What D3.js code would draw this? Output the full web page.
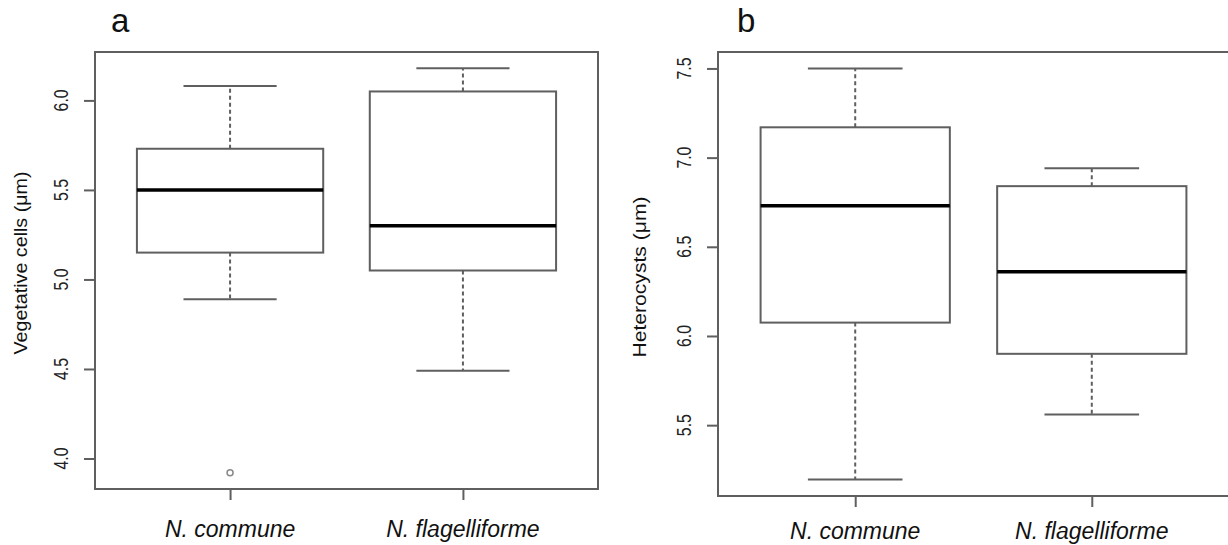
<!DOCTYPE html>
<html>
<head>
<meta charset="utf-8">
<script src="https://cdn.jsdelivr.net/npm/d3@7"></script>
<style>
  body { margin: 0; background: #fff; }
  svg { display: block; }
</style>
</head>
<body>
<div id="chart"></div>
<script>
  // species on the x axis (same for both panels)
  const species = ["N. commune", "N. flagelliforme"];

  // box stats: [lower whisker, Q1, median, Q3, upper whisker]
  const vegStats = [
    [4.89, 5.15, 5.50, 5.73, 6.08],
    [4.49, 5.05, 5.30, 6.05, 6.18]
  ];
  const vegOutliers = [[3.92], []];
  const vegTicks = [4.0, 4.5, 5.0, 5.5, 6.0];

  const hetStats = [
    [5.195, 6.075, 6.73, 7.17, 7.50],
    [5.56, 5.90, 6.36, 6.84, 6.94]
  ];
  const hetOutliers = [[], []];
  const hetTicks = [5.5, 6.0, 6.5, 7.0, 7.5];

  const width = 1228, height = 545;
  const lineColor = "#5f5f5f";

  const svg = d3.select("#chart")
    .append("svg")
    .attr("width", width)
    .attr("height", height);

  const panels = [
    {
      letter: "a", letterX: 111, title: "Vegetative cells (μm)", titleX: 26.5, titleY: 263, titleLen: 183,
      stats: vegStats, outliers: vegOutliers, ticks: vegTicks,
      left: 95, right: 598, top: 52, bottom: 489, labelY: 537
    },
    {
      letter: "b", letterX: 737, title: "Heterocysts (μm)", titleX: 645.5, titleY: 277, titleLen: 161,
      stats: hetStats, outliers: hetOutliers, ticks: hetTicks,
      left: 718, right: 1229, top: 52, bottom: 496, labelY: 539
    }
  ];

  panels.forEach(drawPanel);

  function drawPanel(p) {
    const g = svg.append("g");

    // R-style ranges: 4% padding on the data extent
    const all = p.stats.flat().concat(p.outliers.flat());
    const lo = d3.min(all), hi = d3.max(all), pad = (hi - lo) * 0.04;

    const y = d3.scaleLinear()
      .domain([lo - pad, hi + pad])
      .range([p.bottom, p.top]);

    const x = d3.scaleLinear()
      .domain([0.42, 2.58])
      .range([p.left, p.right]);

    // frame
    g.append("rect")
      .attr("x", p.left)
      .attr("y", p.top)
      .attr("width", p.right - p.left)
      .attr("height", p.bottom - p.top)
      .attr("fill", "none")
      .attr("stroke", lineColor)
      .attr("stroke-width", 2);

    // y axis ticks
    const yAxis = d3.axisLeft(y)
      .tickValues(p.ticks)
      .tickSize(11)
      .tickFormat("");
    g.append("g")
      .attr("transform", `translate(${p.left},0)`)
      .call(yAxis)
      .call(a => a.select(".domain").remove())
      .call(a => a.selectAll("line").attr("stroke", lineColor).attr("stroke-width", 2));

    // rotated tick labels
    g.selectAll(".ylab")
      .data(p.ticks)
      .join("text")
      .attr("class", "ylab")
      .attr("transform", d => `translate(${p.left - 27},${y(d)}) rotate(-90)`)
      .attr("text-anchor", "middle")
      .attr("font-family", "Liberation Sans, Arial, sans-serif")
      .attr("font-size", 20)
      .attr("textLength", 22)
      .attr("lengthAdjust", "spacingAndGlyphs")
      .attr("fill", "#222")
      .text(d => d.toFixed(1));

    // x ticks
    const xAxis = d3.axisBottom(x)
      .tickValues([1, 2])
      .tickSize(11)
      .tickFormat("");
    g.append("g")
      .attr("transform", `translate(0,${p.bottom})`)
      .call(xAxis)
      .call(a => a.select(".domain").remove())
      .call(a => a.selectAll("line").attr("stroke", lineColor).attr("stroke-width", 2));

    g.selectAll(".xlab")
      .data(species)
      .join("text")
      .attr("class", "xlab")
      .attr("x", (d, i) => x(i + 1))
      .attr("y", p.labelY)
      .attr("text-anchor", "middle")
      .attr("font-family", "Liberation Sans, Arial, sans-serif")
      .attr("font-style", "italic")
      .attr("font-size", 23)
      .attr("fill", "#111")
      .text(d => d);

    // axis title
    g.append("text")
      .attr("transform", `translate(${p.titleX},${p.titleY}) rotate(-90)`)
      .attr("text-anchor", "middle")
      .attr("font-family", "Liberation Sans, Arial, sans-serif")
      .attr("font-size", 19)
      .attr("textLength", p.titleLen)
      .attr("lengthAdjust", "spacingAndGlyphs")
      .attr("fill", "#111")
      .text(p.title);

    // panel letter
    g.append("text")
      .attr("x", p.letterX)
      .attr("y", 31.5)
      .attr("font-family", "Liberation Sans, Arial, sans-serif")
      .attr("font-size", 33)
      .attr("fill", "#111")
      .text(p.letter);

    // boxes
    const boxes = g.selectAll(".box")
      .data(p.stats)
      .join("g")
      .attr("class", "box");

    // whiskers (dashed)
    boxes.append("line")
      .attr("x1", (d, i) => x(i + 1))
      .attr("x2", (d, i) => x(i + 1))
      .attr("y1", d => y(d[3]))
      .attr("y2", d => y(d[4]))
      .attr("stroke", lineColor)
      .attr("stroke-width", 2)
      .attr("stroke-dasharray", "4,3");
    boxes.append("line")
      .attr("x1", (d, i) => x(i + 1))
      .attr("x2", (d, i) => x(i + 1))
      .attr("y1", d => y(d[1]))
      .attr("y2", d => y(d[0]))
      .attr("stroke", lineColor)
      .attr("stroke-width", 2)
      .attr("stroke-dasharray", "4,3");

    // staples
    [0, 4].forEach(k => {
      boxes.append("line")
        .attr("x1", (d, i) => x(i + 1 - 0.2))
        .attr("x2", (d, i) => x(i + 1 + 0.2))
        .attr("y1", d => y(d[k]))
        .attr("y2", d => y(d[k]))
        .attr("stroke", lineColor)
        .attr("stroke-width", 2);
    });

    boxes.append("rect")
      .attr("x", (d, i) => x(i + 1 - 0.4))
      .attr("width", (d, i) => x(i + 1 + 0.4) - x(i + 1 - 0.4))
      .attr("y", d => y(d[3]))
      .attr("height", d => y(d[1]) - y(d[3]))
      .attr("fill", "#fff")
      .attr("stroke", lineColor)
      .attr("stroke-width", 2);

    // median
    boxes.append("line")
      .attr("x1", (d, i) => x(i + 1 - 0.4))
      .attr("x2", (d, i) => x(i + 1 + 0.4))
      .attr("y1", d => y(d[2]))
      .attr("y2", d => y(d[2]))
      .attr("stroke", "#000")
      .attr("stroke-width", 3.5);

    // outliers
    p.outliers.forEach((pts, i) => {
      g.selectAll(null)
        .data(pts)
        .join("circle")
        .attr("cx", x(i + 1))
        .attr("cy", d => y(d))
        .attr("r", 3)
        .attr("fill", "none")
        .attr("stroke", "#888")
        .attr("stroke-width", 1.5);
    });
  }
</script>
</body>
</html>
